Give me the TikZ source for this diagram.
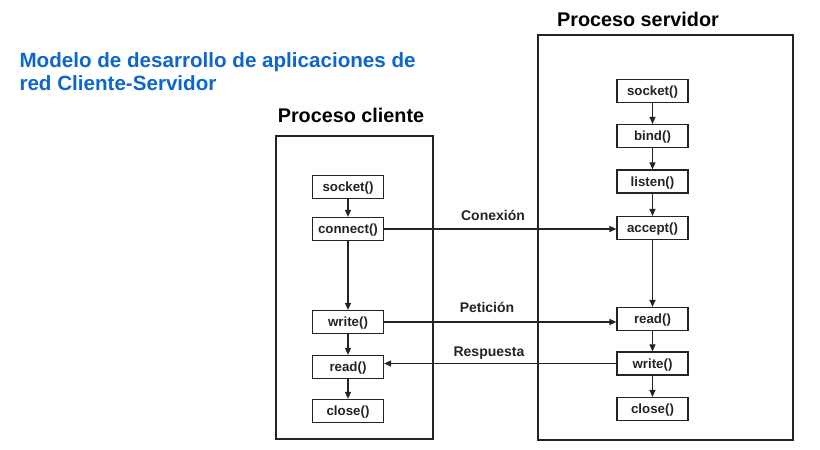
\documentclass[tikz,border=0pt]{standalone}
\usepackage{fontspec}
\setmainfont{Liberation Sans}
\usetikzlibrary{arrows.meta}
\definecolor{titleblue}{RGB}{12,102,206}
\definecolor{ink}{RGB}{35,35,35}
\tikzset{
  fnbox/.style={draw=ink, line width=1.2pt, minimum width=71pt, minimum height=23pt, inner sep=0pt, text height=11pt, text depth=2pt, font=\fontsize{13.3}{15}\selectfont\bfseries, text=ink},
  frame/.style={draw=ink, line width=1.5pt, inner sep=0pt},
  arr/.style={draw=ink, line width=1.2pt, -{Triangle[length=7pt,width=6pt]}},
  msg/.style={font=\fontsize{14}{16}\selectfont\bfseries, text=ink, anchor=base},
  ptitle/.style={font=\fontsize{19.8}{22}\selectfont\bfseries, text=black, anchor=base},
  maintitle/.style={font=\fontsize{20.6}{23}\selectfont\bfseries, text=titleblue, anchor=base west}
}
\begin{document}
\begin{tikzpicture}[x=1pt,y=-1pt]
\useasboundingbox (0,0) rectangle (820,450);
% main title
\node[maintitle] (t1) at (16,67) {Modelo de desarrollo de aplicaciones de};
\node[maintitle] (t2) at (16,90) {red Cliente-Servidor};
% frames
\node[frame, minimum width=157pt, minimum height=303pt] (cframe) at (354.5,287.5) {};
\node[frame, minimum width=255pt, minimum height=405pt] (sframe) at (665.5,237.5) {};
\node[ptitle] (ctitle) at (351,122) {Proceso cliente};
\node[ptitle] (stitle) at (638,26) {Proceso servidor};
% client boxes
\node[fnbox] (csock) at (348,187) {socket()};
\node[fnbox] (cconn) at (348,229) {connect()};
\node[fnbox] (cwrite) at (348,322) {write()};
\node[fnbox] (cread) at (348,367) {read()};
\node[fnbox] (cclose) at (348,411) {close()};
% server boxes
\node[fnbox] (ssock) at (652.5,91) {socket()};
\node[fnbox] (sbind) at (652.5,136) {bind()};
\node[fnbox] (slisten) at (652.5,181.5) {listen()};
\node[fnbox] (saccept) at (652.5,228) {accept()};
\node[fnbox] (sread) at (652.5,319) {read()};
\node[fnbox] (swrite) at (652.5,363.5) {write()};
\node[fnbox] (sclose) at (652.5,409) {close()};
% client flow
\draw[arr] (csock) -- (cconn);
\draw[arr] (cconn) -- (cwrite);
\draw[arr] (cwrite) -- (cread);
\draw[arr] (cread) -- (cclose);
% server flow
\draw[arr] (ssock) -- (sbind);
\draw[arr] (sbind) -- (slisten);
\draw[arr] (slisten) -- (saccept);
\draw[arr] (saccept) -- (sread);
\draw[arr] (sread) -- (swrite);
\draw[arr] (swrite) -- (sclose);
% messages
\draw[arr] (cconn.east) -- (cconn.east -| saccept.west);
\draw[arr] (cwrite.east) -- (cwrite.east -| sread.west);
\draw[arr] (swrite.west) -- (swrite.west -| cread.east);
\node[msg] (lcon) at (493,220) {Conexión};
\node[msg] (lpet) at (487,312) {Petición};
\node[msg] (lres) at (489,356) {Respuesta};
\end{tikzpicture}
\end{document}
